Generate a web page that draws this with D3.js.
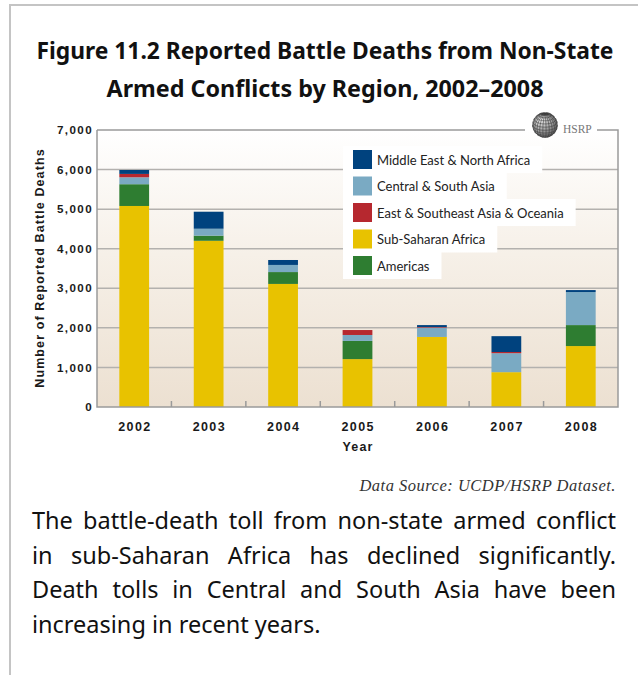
<!DOCTYPE html>
<html lang="en">
<head>
  <meta charset="UTF-8">
  <title>Reported Battle Deaths from Non-State Armed Conflicts by Region</title>
  <script src="https://d3js.org/d3.v7.min.js"></script>
  <style>
    body { margin: 0; background: #fff; }
    svg { display: block; }
  </style>
</head>
<body>
  <svg id="chart" width="638" height="675"></svg>

  <script>
    // data
    const years = ["2002", "2003", "2004", "2005", "2006", "2007", "2008"];
    const regions = ["Sub-Saharan Africa", "Americas", "Central & South Asia",
                     "East & Southeast Asia & Oceania", "Middle East & North Africa"];
    const subSaharanAfrica = [5080, 4200, 3110, 1210, 1770, 880, 1540];
    const americas         = [550, 130, 300, 460, 0, 0, 530];
    const centralSouthAsia = [175, 175, 180, 150, 235, 480, 835];
    const eastAsiaOceania  = [85, 0, 0, 125, 15, 30, 0];
    const middleEastNAfr   = [100, 430, 125, 0, 50, 400, 50];
    const legendOrder = ["Middle East & North Africa", "Central & South Asia",
                         "East & Southeast Asia & Oceania", "Sub-Saharan Africa", "Americas"];
    const yTicks = [0, 1000, 2000, 3000, 4000, 5000, 6000, 7000];
    const titleLines = ["Figure 11.2 Reported Battle Deaths from Non-State",
                        "Armed Conflicts by Region, 2002\u20132008"];
    const bodyLines = ["The battle-death toll from non-state armed conflict",
                       "in sub-Saharan Africa has declined significantly.",
                       "Death tolls in Central and South Asia have been",
                       "increasing in recent years."];

    const seriesValues = [subSaharanAfrica, americas, centralSouthAsia, eastAsiaOceania, middleEastNAfr];
    const colors = {
      "Sub-Saharan Africa": "#e8c200",
      "Americas": "#2e7d31",
      "Central & South Asia": "#7aaac3",
      "East & Southeast Asia & Oceania": "#b6282f",
      "Middle East & North Africa": "#00427e"
    };

    const table = years.map((yr, i) => {
      const row = { year: yr };
      regions.forEach((r, k) => row[r] = seriesValues[k][i]);
      return row;
    });

    const svg = d3.select("#chart");
    const pLeft = 97, pRight = 618, pTop = 130, pBottom = 407;
    const frame = "#9a9a9a";
    const axisFont = "'Liberation Sans', Arial, sans-serif";

    // outer page border
    svg.append("path")
      .attr("d", "M10,675 L10,5 L638,5")
      .attr("fill", "none").attr("stroke", "#c4c4c4").attr("stroke-width", 2);

    // title
    svg.selectAll(".title")
      .data(titleLines)
      .join("text")
      .attr("class", "title")
      .attr("x", 325)
      .attr("y", (d, i) => 59 + i * 38)
      .attr("text-anchor", "middle")
      .attr("font-family", "'Noto Sans', sans-serif")
      .attr("font-weight", "bold")
      .attr("font-size", 22.5)
      .attr("fill", "#111")
      .attr("textLength", (d, i) => [577, 437][i])
      .attr("lengthAdjust", "spacingAndGlyphs")
      .text(d => d);

    const defs = svg.append("defs");
    const bg = defs.append("linearGradient")
      .attr("id", "bg").attr("gradientUnits", "userSpaceOnUse")
      .attr("x1", 0).attr("x2", 0).attr("y1", pTop).attr("y2", pBottom);
    bg.append("stop").attr("offset", "0%").attr("stop-color", "#ffffff");
    bg.append("stop").attr("offset", "45%").attr("stop-color", "#f6f0e8");
    bg.append("stop").attr("offset", "100%").attr("stop-color", "#ece0d1");

    const x = d3.scaleBand().domain(years).range([pLeft, pRight])
      .paddingInner(0.6).paddingOuter(0.3);
    const y = d3.scaleLinear().domain([0, 7000]).range([pBottom, pTop]);

    svg.append("rect")
      .attr("x", pLeft).attr("y", pTop)
      .attr("width", pRight - pLeft).attr("height", pBottom - pTop)
      .attr("fill", "url(#bg)");

    // gridlines
    svg.selectAll(".grid")
      .data(yTicks.slice(1, -1))
      .join("line")
      .attr("class", "grid")
      .attr("x1", pLeft).attr("x2", pRight)
      .attr("y1", d => y(d)).attr("y2", d => y(d))
      .attr("stroke", "#b3b1ae").attr("stroke-width", 1.5);

    // legend (its boxes hide the gridlines behind the labels)
    const legend = svg.append("g").attr("font-family", "Lato, 'Noto Sans', sans-serif")
      .attr("font-size", 13).attr("fill", "#222");
    const items = legend.selectAll("g")
      .data(legendOrder)
      .join("g")
      .attr("transform", (d, i) => `translate(353,${150 + i * 26.5})`);
    items.append("text")
      .attr("x", 24).attr("y", 14.5)
      .text(d => d);
    items.insert("rect", "text")
      .attr("x", -10).attr("y", -4).attr("height", 27)
      .attr("width", function () {
        return 24 + this.parentNode.querySelector("text").getComputedTextLength() + 22;
      })
      .attr("fill", "url(#bg)");
    items.insert("rect", "text")
      .attr("width", 19).attr("height", 19)
      .attr("fill", d => colors[d]);

    // stacked bars
    const stacked = d3.stack().keys(regions)(table);
    svg.append("g")
      .selectAll("g")
      .data(stacked)
      .join("g")
      .attr("fill", d => colors[d.key])
      .selectAll("rect")
      .data(d => d)
      .join("rect")
      .attr("x", d => x(d.data.year))
      .attr("width", x.bandwidth())
      .attr("y", d => y(d[1]))
      .attr("height", d => y(d[0]) - y(d[1]));

    // frame: left axis, bottom axis, right side, top with a gap for the logo
    svg.append("path")
      .attr("d", `M${pLeft},${pTop} L${pLeft},${pBottom} L${pRight},${pBottom} L${pRight},${pTop} L597,${pTop}
                  M525,${pTop} L${pLeft},${pTop}`)
      .attr("fill", "none").attr("stroke", frame).attr("stroke-width", 1.5);

    // small ticks between the years
    svg.selectAll(".xtick")
      .data(years.slice(1))
      .join("line")
      .attr("class", "xtick")
      .attr("x1", d => x(d) - x.step() * x.paddingInner() / 2)
      .attr("x2", d => x(d) - x.step() * x.paddingInner() / 2)
      .attr("y1", pBottom).attr("y2", pBottom - 6)
      .attr("stroke", frame).attr("stroke-width", 1.5);

    // y tick labels
    svg.selectAll(".ylab")
      .data(yTicks)
      .join("text")
      .attr("class", "ylab")
      .attr("x", 93)
      .attr("y", d => y(d) + 4.2)
      .attr("text-anchor", "end")
      .attr("font-family", axisFont)
      .attr("font-weight", "bold")
      .attr("font-size", 11.6)
      .attr("letter-spacing", 1.4)
      .attr("fill", "#1a1a1a")
      .text(d => d3.format(",")(d));

    // x labels
    svg.selectAll(".xlab")
      .data(years)
      .join("text")
      .attr("class", "xlab")
      .attr("x", d => x(d) + x.bandwidth() / 2 + 0.7)
      .attr("y", 430.5)
      .attr("text-anchor", "middle")
      .attr("font-family", axisFont)
      .attr("font-weight", "bold")
      .attr("font-size", 12.5)
      .attr("letter-spacing", 1.4)
      .attr("fill", "#1a1a1a")
      .text(d => d);

    svg.append("text")
      .attr("x", 358).attr("y", 450.5)
      .attr("text-anchor", "middle")
      .attr("font-family", axisFont)
      .attr("font-weight", "bold").attr("font-size", 12.5)
      .attr("letter-spacing", 1.2).attr("fill", "#1a1a1a")
      .text("Year");

    svg.append("text")
      .attr("transform", "translate(44,268) rotate(-90)")
      .attr("text-anchor", "middle")
      .attr("font-family", axisFont)
      .attr("font-weight", "bold").attr("font-size", 12.5)
      .attr("letter-spacing", 1.1).attr("fill", "#1a1a1a")
      .text("Number of Reported Battle Deaths");

    // HSRP globe logo
    const globe = defs.append("radialGradient").attr("id", "globe")
      .attr("cx", "35%").attr("cy", "30%").attr("r", "75%");
    globe.append("stop").attr("offset", "0%").attr("stop-color", "#f4f4f4");
    globe.append("stop").attr("offset", "100%").attr("stop-color", "#5e5e5e");
    const proj = d3.geoOrthographic().scale(12.5).translate([545, 125]).rotate([-25, -25]);
    const geoPath = d3.geoPath(proj);
    svg.append("circle").attr("cx", 545).attr("cy", 125).attr("r", 12.5)
      .attr("fill", "url(#globe)");
    svg.append("path")
      .datum(d3.geoGraticule().step([15, 15])())
      .attr("d", geoPath)
      .attr("fill", "none").attr("stroke", "#3c3c3c").attr("stroke-width", 0.6);
    svg.append("text")
      .attr("x", 563).attr("y", 133)
      .attr("font-family", "'Liberation Serif', serif")
      .attr("font-size", 11.5).attr("fill", "#777")
      .text("HSRP");

    // source
    svg.append("text")
      .attr("x", 616).attr("y", 491)
      .attr("text-anchor", "end")
      .attr("font-family", "'Liberation Serif', serif")
      .attr("font-style", "italic")
      .attr("font-size", 16.5).attr("letter-spacing", 0.5).attr("fill", "#333")
      .text("Data Source: UCDP/HSRP Dataset.");

    // justified caption
    const body = svg.selectAll(".body")
      .data(bodyLines)
      .join("text")
      .attr("class", "body")
      .attr("x", 32)
      .attr("y", (d, i) => 529 + i * 34.7)
      .attr("font-family", "'Noto Sans', sans-serif")
      .attr("font-size", 23.5)
      .attr("fill", "#111")
      .text(d => d);
    body.each(function (d, i) {
      if (i === bodyLines.length - 1) return;
      const natural = this.getComputedTextLength();
      const gaps = d.split(" ").length - 1;
      const target = 616 - 32;
      if (natural < target) {
        d3.select(this).attr("word-spacing", (target - natural) / gaps);
      } else {
        d3.select(this).attr("textLength", target).attr("lengthAdjust", "spacingAndGlyphs");
      }
    });
  </script>
</body>
</html>
